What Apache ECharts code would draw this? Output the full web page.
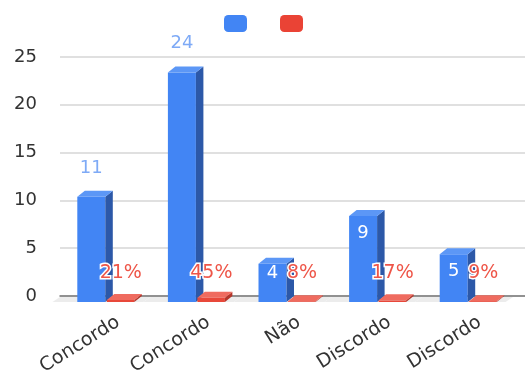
<!DOCTYPE html>
<html>
<head>
<meta charset="utf-8">
<script src="https://cdn.jsdelivr.net/npm/echarts@6/dist/echarts.min.js"></script>
<style>
  html, body { margin: 0; padding: 0; background: #fff; }
  #chart { width: 525px; height: 378px; }
</style>
</head>
<body>
<div id="chart"></div>
<script>
// valores
var categorias = ['Concordo', 'Concordo', 'Não', 'Discordo', 'Discordo'];
var contagem = [11, 24, 4, 9, 5];
var percentual = [0.21, 0.45, 0.08, 0.17, 0.09];
var yMax = 25;
var yStep = 5;

var FONT = 'DejaVu Sans';
var DX = 7.5, DY = 6; // profundidade do efeito 3d

function caixa3d(c, yv, y0, left, right, cores) {
    return [
        { type: 'rect', shape: { x: left, y: yv + DY, width: right - left, height: y0 - yv }, style: { fill: cores.frente } },
        { type: 'polygon', shape: { points: [[right, yv + DY], [right + DX, yv], [right + DX, y0], [right, y0 + DY]] }, style: { fill: cores.lado } },
        { type: 'polygon', shape: { points: [[left, yv + DY], [left + DX, yv], [right + DX, yv], [right, yv + DY]] }, style: { fill: cores.topo } }
    ];
}

function renderContagem(params, api) {
    var i = api.value(0), v = api.value(1);
    var topo = api.coord([i, v]);
    var base = api.coord([i, 0]);
    var band = api.size([1, 0])[0];
    var c = topo[0], yv = topo[1], y0 = base[1];
    var left = c - 28, right = c;
    // chao cinza sob as barras
    var children = [
        { type: 'polygon', shape: { points: [[c - band / 2, y0 + 1], [c + band / 2, y0 + 1], [c + band / 2 - DX, y0 + DY], [c - band / 2 - DX, y0 + DY]] }, style: { fill: '#ececec' } }
    ];
    children = children.concat(caixa3d(c, yv, y0, left, right, { frente: '#4285f4', lado: '#2c58a8', topo: '#5c97f6' }));
    var fora = v >= 10;
    children.push({
        type: 'text',
        style: {
            text: String(v),
            x: c - 14,
            y: fora ? yv - 23 : Math.min(yv + 23, y0 - 23),
            fill: fora ? '#7eaaf6' : '#ffffff',
            font: '18px "' + FONT + '"',
            align: 'center',
            verticalAlign: 'middle'
        }
    });
    return { type: 'group', children: children };
}

function renderPercentual(params, api) {
    var i = api.value(0), v = api.value(1);
    var topo = api.coord([i, v]);
    var base = api.coord([i, 0]);
    var c = topo[0], yv = topo[1], y0 = base[1];
    var left = c + 1.5, right = c + 29;
    var children = caixa3d(c, yv, y0, left, right, { frente: '#e8483a', lado: '#b5362b', topo: '#ef6b5f' });
    children.push({
        type: 'text',
        style: {
            text: Math.round(v * 100) + '%',
            x: c + 15.5,
            y: y0 - 23,
            fill: '#ee5548',
            stroke: '#ffffff',
            lineWidth: 3,
            font: '19px "' + FONT + '"',
            align: 'center',
            verticalAlign: 'middle'
        }
    });
    return { type: 'group', children: children };
}

var chart = echarts.init(document.getElementById('chart'));

var option = {
    backgroundColor: '#ffffff',
    animation: false,
    legend: {
        left: 224,
        top: 15,
        padding: 0,
        itemWidth: 23,
        itemHeight: 17,
        itemGap: 33,
        icon: 'roundRect',
        formatter: function () { return ''; },
        data: ['Contagem', 'Percentual']
    },
    grid: [
        { left: 60, right: 0, top: 57, bottom: 82 },
        { left: 60, right: 12, top: 57, bottom: 82 },
        { left: 73, right: 0, top: 57, bottom: 82 }
    ],
    xAxis: [
        {
            gridIndex: 0, type: 'value', min: 0, max: 1,
            axisLine: { show: true, lineStyle: { color: '#777', width: 1.5 } },
            axisTick: { show: false }, axisLabel: { show: false }, splitLine: { show: false }
        },
        {
            gridIndex: 1, type: 'category', data: categorias,
            axisLine: { show: false }, axisTick: { show: false }, axisLabel: { show: false }
        },
        {
            gridIndex: 2, type: 'category', data: categorias,
            axisLine: { show: false }, axisTick: { show: false },
            axisLabel: { interval: 0, rotate: 32, margin: 44, color: '#333', fontSize: 19, fontFamily: FONT }
        }
    ],
    yAxis: [
        {
            gridIndex: 0, type: 'value', min: 0, max: yMax, interval: yStep,
            axisLine: { show: false }, axisTick: { show: false },
            axisLabel: { margin: 23, color: '#333', fontSize: 18, fontFamily: FONT },
            splitLine: { lineStyle: { color: '#d6d6d6', width: 1.5 } }
        },
        { gridIndex: 1, type: 'value', min: 0, max: yMax, show: false },
        { gridIndex: 2, type: 'value', min: 0, max: yMax, show: false }
    ],
    series: [
        {
            name: 'Contagem', type: 'custom', xAxisIndex: 1, yAxisIndex: 1,
            itemStyle: { color: '#4285f4' },
            renderItem: renderContagem,
            encode: { x: 0, y: 1 },
            data: contagem.map(function (v, i) { return [i, v]; })
        },
        {
            name: 'Percentual', type: 'custom', xAxisIndex: 1, yAxisIndex: 1,
            itemStyle: { color: '#ea4335' },
            renderItem: renderPercentual,
            encode: { x: 0, y: 1 },
            data: percentual.map(function (v, i) { return [i, v]; })
        }
    ]
};

chart.setOption(option);
</script>
</body>
</html>
